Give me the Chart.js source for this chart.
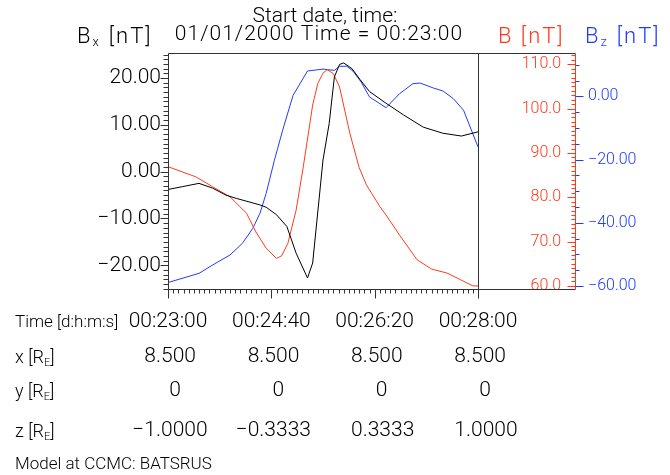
<!DOCTYPE html>
<html>
<head>
<meta charset="utf-8">
<script src="https://cdn.jsdelivr.net/npm/chart.js@4.4.1/dist/chart.umd.min.js"></script>
<style>
  html, body { margin: 0; padding: 0; background: #fff; }
</style>
</head>
<body>
<canvas id="bfield" width="670" height="475"></canvas>
<script>
// seconds after 00:23:00
const bxTime = [0, 14, 30, 43, 56, 66, 89, 95, 105, 115, 124, 135, 140, 150, 156, 161, 166, 170, 178, 186, 195, 211, 228, 247, 266, 284, 300];
const bxValues = [-3.8, -3.2, -2.5, -3.5, -5.0, -5.7, -7.1, -7.6, -9.2, -11.7, -17.4, -22.7, -19.5, 2.5, 10.3, 20.2, 22.9, 23.2, 22.0, 19.6, 17.1, 14.6, 12.1, 9.5, 8.2, 7.6, 8.5];

const bTime = [0, 27, 43, 60, 76, 85, 95, 105, 110, 116, 124, 131, 140, 145, 150, 154, 160, 166, 176, 185, 192, 205, 211, 224, 241, 255, 270, 283, 295, 300];
const bValues = [86.9, 84.6, 82.4, 80.1, 76.4, 72.2, 68.5, 66.2, 66.8, 69.6, 77.1, 87.0, 100.8, 105.7, 108.0, 108.8, 107.9, 104.9, 94.4, 86.7, 82.8, 77.9, 76.0, 71.5, 65.9, 63.8, 62.9, 61.4, 60.0, 60.0];

const bzTime = [0, 30, 43, 60, 72, 82, 89, 95, 103, 111, 121, 135, 150, 161, 166, 173, 179, 187, 195, 211, 224, 237, 244, 257, 266, 276, 286, 300];
const bzValues = [-58.9, -56.0, -53.4, -50.2, -46.5, -41.8, -37.0, -30.7, -20.2, -10.7, 0.3, 8.0, 8.6, 8.2, 9.5, 9.5, 8.0, 4.5, -0.2, -3.6, 0.8, 4.0, 4.2, 2.6, 1.7, -0.7, -4.4, -16.0];

const timeTicks = [0, 100, 200, 300];
const timeTickLabels = ['00:23:00', '00:24:40', '00:26:20', '00:28:00'];
const bxTicks = [-20, -10, 0, 10, 20];
const bTicks = [60, 70, 80, 90, 100, 110];
const bzTicks = [-60, -40, -20, 0];

const xRow = ['8.500', '8.500', '8.500', '8.500'];
const yRow = ['0', '0', '0', '0'];
const zRow = ['\u22121.0000', '\u22120.3333', '0.3333', '1.0000'];

const RED = '#ff3a1c';
const BLUE = '#1e3cff';
const FONT = 'Roboto';

function pts(t, v) {
  return t.map((x, i) => ({ x: x, y: v[i] }));
}
function minus(s) {
  return s.replace('-', '\u2212');
}
function setTicks(list) {
  return scale => { scale.ticks = list.map(v => ({ value: v })); };
}
function font(size) {
  return '300 ' + size + 'px ' + FONT;
}

// text with a lowered small part, e.g. B_x
function drawParts(ctx, parts, x, y, color, spacing) {
  ctx.fillStyle = color;
  ctx.textAlign = 'left';
  ctx.textBaseline = 'alphabetic';
  ctx.letterSpacing = (spacing || 0) + 'px';
  parts.forEach(p => {
    ctx.font = font(p.size);
    ctx.fillText(p.t, x, y + (p.dy || 0));
    x += ctx.measureText(p.t).width + (p.gap || 0);
  });
  ctx.letterSpacing = '0px';
}

function drawDecimal(ctx, s, x, y) {
  const i = s.indexOf('.');
  if (i < 0) {
    ctx.textAlign = 'center';
    ctx.fillText(s, x + 19, y);
    return;
  }
  ctx.textAlign = 'right';
  ctx.fillText(s.slice(0, i), x, y);
  ctx.textAlign = 'left';
  ctx.fillText(s.slice(i), x, y);
}

const idlFrame = {
  id: 'idlFrame',
  afterDraw(chart) {
    const { ctx, chartArea: a, scales } = chart;
    const axisX = Math.round(scales.yBz.left) + 14;
    const L = Math.round(a.left) + 0.5, R = Math.round(a.right) + 0.5;
    const T = Math.round(a.top) + 0.5, B = Math.round(a.bottom) + 0.5;
    const AX = axisX + 0.5;

    ctx.save();
    ctx.lineWidth = 1;
    ctx.strokeStyle = '#333';
    ctx.beginPath();
    ctx.moveTo(L, T); ctx.lineTo(AX, T);
    ctx.moveTo(L, B); ctx.lineTo(AX, B);
    ctx.moveTo(L, T); ctx.lineTo(L, B);
    ctx.moveTo(R, T); ctx.lineTo(R, B);
    // left ticks
    for (let v = -25; v <= 25; v++) {
      const y = Math.round(scales.y.getPixelForValue(v)) + 0.5;
      const len = v % 10 === 0 ? 8 : 5;
      ctx.moveTo(L - len, y); ctx.lineTo(L, y);
    }
    // bottom ticks
    for (let t = 0; t <= 300; t += 5) {
      const x = Math.round(scales.x.getPixelForValue(t)) + 0.5;
      const len = t % 100 === 0 ? 9 : 4;
      ctx.moveTo(x, B); ctx.lineTo(x, B + len);
    }
    ctx.stroke();

    ctx.strokeStyle = RED;
    ctx.beginPath();
    ctx.moveTo(AX, T); ctx.lineTo(AX, B);
    for (let v = 60; v <= 112; v++) {
      const y = Math.round(scales.yB.getPixelForValue(v)) + 0.5;
      const len = v % 10 === 0 ? 8 : 4;
      ctx.moveTo(AX - len, y); ctx.lineTo(AX, y);
    }
    ctx.stroke();

    ctx.strokeStyle = BLUE;
    ctx.beginPath();
    for (let v = -60; v <= 10; v += 5) {
      const y = Math.round(scales.yBz.getPixelForValue(v)) + 0.5;
      const len = v % 20 === 0 ? 8 : 4;
      ctx.moveTo(AX, y); ctx.lineTo(AX + len, y);
    }
    ctx.stroke();

    // titles
    ctx.fillStyle = '#000';
    ctx.textBaseline = 'middle';
    ctx.textAlign = 'center';
    ctx.font = font(21);
    ctx.fillText('Start date, time:', 325, 17);
    ctx.letterSpacing = '1px';
    ctx.fillText('01/01/2000 Time = 00:23:00', 319, 35);
    ctx.letterSpacing = '0px';

    drawParts(ctx, [{ t: 'B', size: 22 }, { t: 'x', size: 13, dy: 3, gap: 8 }, { t: '[nT]', size: 22 }], 77, 43, '#000', 2);
    drawParts(ctx, [{ t: 'B [nT]', size: 22 }], 498, 43, RED, 2);
    drawParts(ctx, [{ t: 'B', size: 22 }, { t: 'z', size: 13, dy: 3, gap: 8 }, { t: '[nT]', size: 22 }], 585, 43, BLUE, 2);

    // position table below the time axis
    ctx.fillStyle = '#000';
    ctx.textBaseline = 'middle';
    ctx.textAlign = 'left';
    ctx.font = font(17);
    ctx.fillText('Time [d:h:m:s]', 15, 323);

    const rows = [
      { name: 'x', vals: xRow, y: 357 },
      { name: 'y', vals: yRow, y: 391 },
      { name: 'z', vals: zRow, y: 431 }
    ];
    rows.forEach(r => {
      drawParts(ctx, [{ t: r.name + ' [R', size: 18 }, { t: 'E', size: 11, dy: 3 }, { t: ']', size: 18 }], 15, r.y + 6, '#000', 0);
      ctx.textBaseline = 'middle';
      ctx.font = font(21);
      r.vals.forEach((s, i) => {
        drawDecimal(ctx, s, scales.x.getPixelForValue(timeTicks[i]) - 12, r.y);
      });
    });

    ctx.textAlign = 'left';
    ctx.textBaseline = 'middle';
    ctx.font = font(17);
    ctx.fillText('Model at CCMC: BATSRUS', 15, 465);
    ctx.restore();
  }
};

const config = {
  type: 'line',
  data: {
    datasets: [
      { label: 'Bx', data: pts(bxTime, bxValues), yAxisID: 'y', borderColor: '#000' },
      { label: 'B', data: pts(bTime, bValues), yAxisID: 'yB', borderColor: RED },
      { label: 'Bz', data: pts(bzTime, bzValues), yAxisID: 'yBz', borderColor: BLUE }
    ]
  },
  options: {
    responsive: false,
    animation: false,
    devicePixelRatio: 1,
    layout: { padding: { top: 53, right: 0, bottom: 0, left: 0 } },
    elements: {
      line: { borderWidth: 1, tension: 0 },
      point: { radius: 0 }
    },
    plugins: {
      legend: { display: false },
      tooltip: { enabled: false }
    },
    scales: {
      x: {
        type: 'linear',
        min: 0,
        max: 300,
        afterBuildTicks: setTicks(timeTicks),
        afterFit: s => { s.height = 186; },
        grid: { display: false, drawTicks: false },
        border: { display: false },
        ticks: {
          autoSkip: false,
          maxRotation: 0,
          padding: 20,
          color: '#000',
          font: { family: FONT, size: 21, weight: '300' },
          callback: (v, i) => timeTickLabels[i]
        }
      },
      y: {
        position: 'left',
        min: -25.05,
        max: 25.33,
        afterBuildTicks: setTicks(bxTicks),
        afterFit: s => { s.width = 168; },
        grid: { display: false, drawTicks: false },
        border: { display: false },
        ticks: {
          padding: 7,
          color: '#000',
          font: { family: FONT, size: 21, weight: '300' },
          callback: v => minus(v.toFixed(2))
        }
      },
      yB: {
        position: 'right',
        min: 59.3,
        max: 112.55,
        afterBuildTicks: setTicks(bTicks),
        afterFit: s => { s.width = 83; },
        grid: { display: false, drawTicks: false },
        border: { display: false },
        ticks: {
          crossAlign: 'far',
          padding: 0,
          color: RED,
          font: { family: FONT, size: 16, weight: '300' },
          callback: v => v.toFixed(1)
        }
      },
      yBz: {
        position: 'right',
        min: -60.95,
        max: 13.7,
        afterBuildTicks: setTicks(bzTicks),
        afterFit: s => { s.width = 109; },
        grid: { display: false, drawTicks: false },
        border: { display: false },
        ticks: {
          crossAlign: 'near',
          padding: 27,
          color: BLUE,
          font: { family: FONT, size: 16, weight: '300' },
          callback: v => minus(v.toFixed(2))
        }
      }
    }
  },
  plugins: [idlFrame]
};

const bfieldChart = new Chart(document.getElementById('bfield'), config);
</script>
</body>
</html>
